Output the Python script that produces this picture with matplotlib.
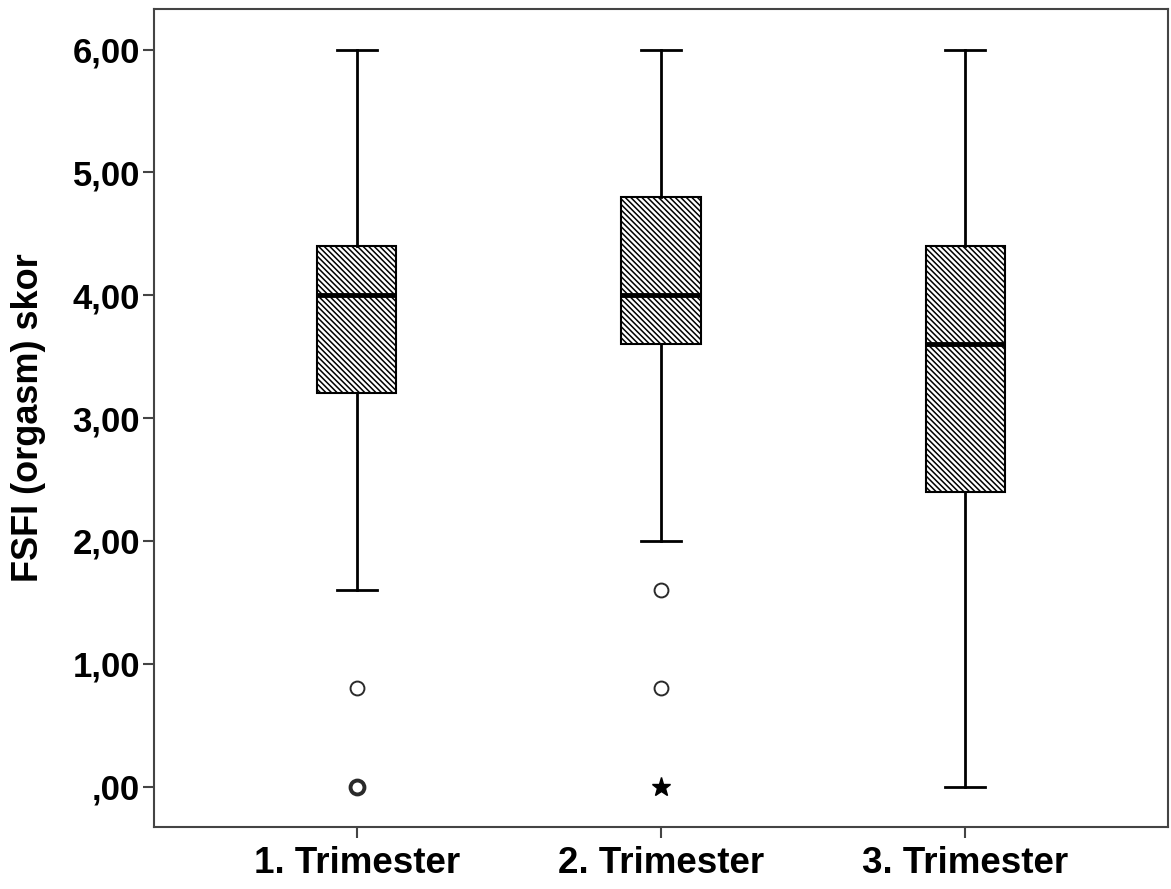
import matplotlib
matplotlib.use("Agg")
import matplotlib.pyplot as plt
from collections import Counter

plt.rcParams["font.family"] = ["Liberation Sans", "DejaVu Sans"]
plt.rcParams["font.weight"] = "bold"
plt.rcParams["hatch.linewidth"] = 1.1
plt.rcParams["hatch.color"] = "#333333"

# Trimester groups and their box statistics (FSFI orgasm score)
groups = ["1. Trimester", "2. Trimester", "3. Trimester"]
whisker_low = [1.6, 2.0, 0.0]
q1 = [3.2, 3.6, 2.4]
median = [4.0, 4.0, 3.6]
q3 = [4.4, 4.8, 4.4]
whisker_high = [6.0, 6.0, 6.0]
outliers = [[0.8, 0.0, 0.0, 0.0], [1.6, 0.8], []]
extremes = [[], [0.0], []]

yticks = [0, 1, 2, 3, 4, 5, 6]
ytick_labels = [",00", "1,00", "2,00", "3,00", "4,00", "5,00", "6,00"]

stats = []
for i, name in enumerate(groups):
    stats.append({
        "label": name,
        "whislo": whisker_low[i],
        "q1": q1[i],
        "med": median[i],
        "q3": q3[i],
        "whishi": whisker_high[i],
        "fliers": [],
    })

fig = plt.figure(figsize=(11.71, 8.89), dpi=100)
ax = fig.add_axes([0.1315, 0.0697, 0.866, 0.9202])

positions = [1, 2, 3]
ax.bxp(
    stats, positions=positions, widths=0.26, patch_artist=True,
    showfliers=False,
    boxprops=dict(facecolor="white", edgecolor="black", linewidth=1.5,
                  hatch="\\\\\\\\\\\\"),
    medianprops=dict(color="black", linewidth=3.5),
    whiskerprops=dict(color="black", linewidth=2),
    capprops=dict(color="black", linewidth=2),
    capwidths=0.13,
)

# outliers: repeated values overlap, drawn with a heavier ring
for pos, vals in zip(positions, outliers):
    for v, n in Counter(vals).items():
        ax.plot([pos], [v], linestyle="none", marker="o", markersize=10,
                markerfacecolor="white", markeredgecolor="#2a2a2a",
                markeredgewidth=1.4 if n == 1 else 2.8)

# extreme values shown with a star
for pos, vals in zip(positions, extremes):
    if vals:
        ax.plot([pos] * len(vals), vals, linestyle="none", marker="*",
                markersize=14, color="black")

ax.set_xlim(0.333, 3.667)
ax.set_ylim(-0.33, 6.33)
ax.set_yticks(yticks)
ax.set_yticklabels(ytick_labels, fontsize=25, fontweight="bold")
ax.set_xticks(positions)
ax.set_xticklabels(groups, fontsize=26.5, fontweight="bold")
ax.set_ylabel("FSFI (orgasm) skor", fontsize=26, fontweight="bold")
ax.yaxis.set_label_coords(-0.106, 0.5)

for sp in ax.spines.values():
    sp.set_color("#444444")
    sp.set_linewidth(1.5)
ax.tick_params(axis="both", length=8, width=1.5, color="#444444")
ax.tick_params(axis="y", pad=2)
ax.tick_params(axis="x", pad=6)

fig.savefig("out.png", dpi=100)
